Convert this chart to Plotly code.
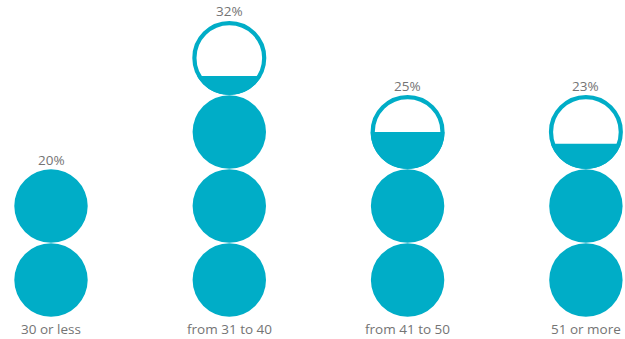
import numpy as np
import plotly.graph_objects as go

# ---- data ----
categories = ["30 or less", "from 31 to 40", "from 41 to 50", "51 or more"]
percent_values = [20, 32, 25, 23]
percent_labels = ["20%", "32%", "25%", "23%"]
units_per_icon = 10  # each circle icon = 10%

COLOR = "#00ADC7"
TEXT = "#747474"
FONT = "Open Sans"
W, H = 625, 339
PX = 74.0            # pixels per unit (one icon diameter)
col_step = 178.3 / PX
x0_px, base_px = 51.0, 317.0


def fill_height(area_frac):
    """height fraction (of diameter) of a circular segment holding area_frac of the circle"""
    lo, hi = 0.0, 1.0
    for _ in range(60):
        mid = (lo + hi) / 2
        h = mid * 2  # radius 1, height in [0,2]
        a = np.arccos(1 - h) - (1 - h) * np.sqrt(max(2 * h - h * h, 0))
        if a / np.pi < area_frac:
            lo = mid
        else:
            hi = mid
    return (lo + hi) / 2


fig = go.Figure()
shapes, annotations = [], []
r = 0.5
gap = 0.004
lw = 4.2
inset = (lw / 2) / PX

for i, (cat, lab, v) in enumerate(zip(categories, percent_labels, percent_values)):
    cx = i * col_step
    u = v / units_per_icon
    n_full = int(np.floor(u + 1e-9))
    frac = u - n_full
    for k in range(n_full):
        cy = k + 0.5
        shapes.append(dict(type="circle", xref="x", yref="y",
                           x0=cx - r + gap, x1=cx + r - gap, y0=cy - r + gap, y1=cy + r - gap,
                           fillcolor=COLOR, line=dict(width=0)))
    top = n_full
    if frac > 1e-6:
        cy = n_full + 0.5
        shapes.append(dict(type="circle", xref="x", yref="y",
                           x0=cx - r + inset, x1=cx + r - inset,
                           y0=cy - r + inset, y1=cy + r - inset,
                           fillcolor="white", line=dict(color=COLOR, width=lw)))
        hf = fill_height(frac)
        yw = cy - r + hf * 2 * r
        a = np.arcsin(np.clip((yw - cy) / r, -1, 1))
        angs = np.linspace(np.pi - a, 2 * np.pi + a, 80)
        xs = cx + (r - 0.002) * np.cos(angs)
        ys = cy + (r - 0.002) * np.sin(angs)
        path = "M " + " L ".join(f"{x:.4f},{y:.4f}" for x, y in zip(xs, ys)) + " Z"
        shapes.append(dict(type="path", xref="x", yref="y", path=path,
                           fillcolor=COLOR, line=dict(width=0)))
        top = n_full + 1
    annotations.append(dict(x=cx, y=top, xref="x", yref="y", text=lab, showarrow=False,
                            yanchor="bottom", yshift=-1.5,
                            font=dict(size=13.5, color=TEXT, family=FONT)))
    annotations.append(dict(x=cx, y=0, xref="x", yref="y", text=cat, showarrow=False,
                            yanchor="top", yshift=-1,
                            font=dict(size=13.5, color=TEXT, family=FONT)))

fig.add_trace(go.Scatter(x=[0], y=[0], mode="markers", marker=dict(opacity=0),
                         hoverinfo="skip", showlegend=False))

fig.update_layout(
    width=W, height=H,
    margin=dict(l=0, r=0, t=0, b=0),
    paper_bgcolor="white", plot_bgcolor="white",
    shapes=shapes, annotations=annotations, showlegend=False,
    xaxis=dict(range=[-x0_px / PX, (W - x0_px) / PX], visible=False, fixedrange=True),
    yaxis=dict(range=[-(H - base_px) / PX, base_px / PX], visible=False, fixedrange=True),
)

fig.write_html("out.html")
